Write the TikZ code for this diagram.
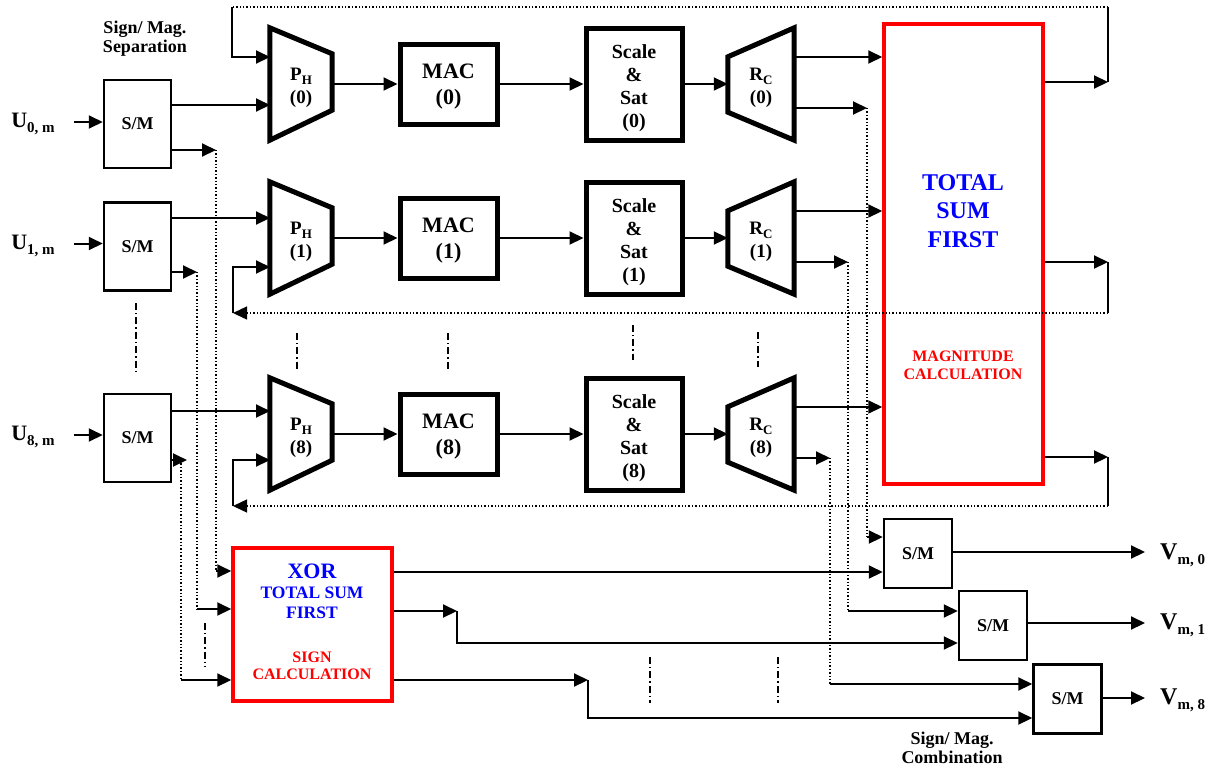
\documentclass[tikz,border=0pt]{standalone}
\usepackage{fontspec}
\setmainfont{Liberation Serif}
\usetikzlibrary{arrows.meta,calc}
\definecolor{tblue}{RGB}{0,0,255}
\definecolor{tred}{RGB}{255,0,0}
\newcommand{\mysub}[2][13]{\raisebox{-0.22em}{\fontsize{#1}{#1}\selectfont #2}}
\begin{document}
\begin{tikzpicture}[x=1pt,y=-1pt,
  conn/.style={line width=2pt},
  arr/.style={line width=2pt,-{Triangle[length=14pt,width=13pt]}},
  dotln/.style={line width=1.4pt,dash pattern=on 1.4pt off 2pt},
  dotarr/.style={line width=1.4pt,dash pattern=on 1.4pt off 2pt,-{Triangle[length=14pt,width=13pt]}},
  dashdot/.style={line width=1.4pt,dash pattern=on 7pt off 3pt on 1.4pt off 3pt},
  thk/.style={line width=5pt,line join=miter},
  trap/.style={minimum width=62pt,minimum height=112pt,inner sep=0pt},
  rctrap/.style={trap,minimum width=66pt},
  trtxt/.style={inner sep=0pt,align=center,font=\bfseries\fontsize{19}{23}\selectfont},
  macbox/.style={draw,line width=5pt,minimum width=97pt,minimum height=80pt,inner sep=0pt},
  mactxt/.style={inner sep=0pt,align=center,font=\bfseries\fontsize{22}{26}\selectfont},
  scbox/.style={draw,line width=5pt,minimum width=96pt,minimum height=112pt,inner sep=0pt},
  sctxt/.style={inner sep=0pt,align=center,font=\bfseries\fontsize{20}{23}\selectfont},
  smbox/.style={draw,line width=2.5pt,minimum width=67pt,minimum height=88pt,inner sep=0pt,font=\bfseries\fontsize{18}{18}\selectfont},
  smout/.style={draw,line width=2.5pt,minimum width=68pt,minimum height=69pt,inner sep=0pt,font=\bfseries\fontsize{18}{18}\selectfont},
  redbox/.style={draw=tred,line width=3.5pt,inner sep=0pt},
  lbl/.style={inner sep=0pt,align=center,font=\bfseries\fontsize{18}{19}\selectfont},
  ulbl/.style={inner sep=0pt,font=\bfseries\fontsize{22}{22}\selectfont},
  vlbl/.style={inner sep=0pt,font=\bfseries\fontsize{24}{24}\selectfont}
]
\useasboundingbox (0,0) rectangle (1212,772);

% ---- labels
\node[lbl] (sep) at (145,39) {Sign/ Mag.\\Separation};
\node[lbl] (comb) at (952,747.5) {Sign/ Mag.\\Combination};

% ---- input S/M
\node[smbox] (sm0) at (137.5,124) {S/M};
\node[smbox] (sm1) at (137.5,246.5) {S/M};
\node[smbox] (sm8) at (137.5,438) {S/M};
\node[ulbl] (u0) at (33,124) {U\mysub[15]{0, m}};
\node[ulbl] (u1) at (33,246) {U\mysub[15]{1, m}};
\node[ulbl] (u8) at (33,437) {U\mysub[15]{8, m}};
\draw[arr] ($(sm0.west)+(-29,-2)$) -- ($(sm0.west)+(0,-2)$);
\draw[arr] ($(sm1.west)+(-29,-3)$) -- ($(sm1.west)+(0,-3)$);
\draw[arr] ($(sm8.west)+(-29,-3)$) -- ($(sm8.west)+(0,-3)$);

% ---- processing rows
\foreach \i/\c in {0/84,1/238,8/434}{
  \node[trap] (ph\i) at (301,\c) {};
  \draw[thk] (ph\i.north west) -- ($(ph\i.north east)+(0,26)$) -- ($(ph\i.south east)+(0,-30)$) -- (ph\i.south west) -- cycle;
  \node[trtxt] (pht\i) at ($(ph\i.center)+(0,4)$) {P\mysub{H}\\(\i)};
  \node[macbox] (mac\i) at (448.5,\c) {};
  \node[mactxt] (mact\i) at ($(mac\i.center)+(0,3)$) {MAC\\(\i)};
  \node[scbox] (sc\i) at (634,\c) {};
  \node[sctxt] (sct\i) at ($(sc\i.center)+(0,4)$) {Scale\\\&\\Sat\\(\i)};
  \node[rctrap] (rc\i) at (761,\c) {};
  \draw[thk] (rc\i.north east) -- (rc\i.south east) -- ($(rc\i.south west)+(0,-28)$) -- ($(rc\i.north west)+(0,29)$) -- cycle;
  \node[trtxt] (rct\i) at ($(rc\i.center)+(0,4)$) {R\mysub{C}\\(\i)};
  \draw[arr] (ph\i.east) -- (mac\i.west);
  \draw[arr] (mac\i.east) -- (sc\i.west);
  \draw[arr] (sc\i.east) -- (rc\i.west);
}

% ---- magnitude block
\node[redbox,minimum width=159pt,minimum height=460pt] (tsf) at (963.5,254) {};
\node[inner sep=0pt,align=center,text=tblue,font=\bfseries\fontsize{24}{28.5}\selectfont] (tsft) at (963,211) {TOTAL\\SUM\\FIRST};
\node[inner sep=0pt,align=center,text=tred,font=\bfseries\fontsize{16}{18}\selectfont] (tsfm) at (963,365) {MAGNITUDE\\CALCULATION};

% R_C upper outputs into TSF
\draw[arr] ($(rc0.east)+(0,-27)$) coordinate (ta) -- (ta -| tsf.west);
\draw[arr] ($(rc1.east)+(0,-27)$) coordinate (tb) -- (tb -| tsf.west);
\draw[arr] ($(rc8.east)+(0,-27)$) coordinate (tc) -- (tc -| tsf.west);

% ---- sign block
\node[redbox,minimum width=159pt,minimum height=153pt] (xor) at (312.5,624.5) {};
\node[inner sep=0pt,text=tblue,font=\bfseries\fontsize{22}{22}\selectfont] (xort) at (312,571) {XOR};
\node[inner sep=0pt,align=center,text=tblue,font=\bfseries\fontsize{17.5}{20}\selectfont] (xort2) at (312,603) {TOTAL SUM\\FIRST};
\node[inner sep=0pt,align=center,text=tred,font=\bfseries\fontsize{16}{17}\selectfont] (xors) at (312,665.5) {SIGN\\CALCULATION};

% ---- output S/M
\node[smout] (v0) at (918,553.5) {S/M};
\node[smout] (v1) at (993,625.5) {S/M};
\node[smout] (v8) at (1067.5,699) {S/M};
\coordinate (o0) at (1145,552);
\coordinate (o1) at (1145,623);
\coordinate (o8) at (1145,698);
\node[vlbl,anchor=west] (vl0) at (1160,555) {V\mysub[15]{m, 0}};
\node[vlbl,anchor=west] (vl1) at (1160,625) {V\mysub[15]{m, 1}};
\node[vlbl,anchor=west] (vl8) at (1160,700) {V\mysub[15]{m, 8}};
\draw[arr] (v0.east |- o0) -- (o0);
\draw[arr] (v1.east |- o1) -- (o1);
\draw[arr] (v8.east |- o8) -- (o8);

% ---- S/M magnitude outputs to P_H
\coordinate (p0a) at (270,57);
\coordinate (p0b) at (270,105);
\coordinate (p1a) at (270,218);
\coordinate (p1b) at (270,267);
\coordinate (p8a) at (270,411);
\coordinate (p8b) at (270,460);
\draw[arr] (sm0.east |- p0b) -- (p0b);
\draw[arr] (sm1.east |- p1a) -- (p1a);
\draw[arr] (sm8.east |- p8a) -- (p8a);

% ---- feedback loops TSF -> P_H
\coordinate (f0) at (1108,82);
\coordinate (f0t) at (1108,7);
\coordinate (f0l) at (232,7);
\draw[arr] (tsf.east |- f0) -- (f0);
\draw[conn] (f0) -- (f0t);
\draw[dotln] (f0t) -- (f0l);
\draw[arr] (f0l) |- (p0a);

\coordinate (f1) at (1108,262);
\coordinate (f1b) at (1108,313);
\coordinate (f1l) at (233,313);
\draw[arr] (tsf.east |- f1) -- (f1);
\draw[conn] (f1) -- (f1b);
\draw[dotarr] (f1b) -- (f1l);
\draw[arr] (f1l) |- (p1b);

\coordinate (f8) at (1108,457);
\coordinate (f8b) at (1108,506);
\coordinate (f8l) at (233,506);
\draw[arr] (tsf.east |- f8) -- (f8);
\draw[conn] (f8) -- (f8b);
\draw[dotarr] (f8b) -- (f8l);
\draw[arr] (f8l) |- (p8b);

% ---- R_C magnitude outputs to output S/M
\coordinate (d0t) at (867,108);
\coordinate (d0b) at (867,537);
\coordinate (d1t) at (848,262);
\coordinate (d1b) at (848,611);
\coordinate (d8t) at (830,458);
\coordinate (d8b) at (830,684);
\draw[arr] (rc0.east |- d0t) -- (d0t);
\draw[dotln] (d0t) -- (d0b);
\draw[arr] (d0b) -- (v0.west |- d0b);
\draw[arr] (rc1.east |- d1t) -- (d1t);
\draw[dotln] (d1t) -- (d1b);
\draw[arr] (d1b) -- (v1.west |- d1b);
\draw[arr] (rc8.east |- d8t) -- (d8t);
\draw[dotln] (d8t) -- (d8b);
\draw[arr] (d8b) -- (v8.west |- d8b);

% ---- S/M sign outputs to XOR
\coordinate (s0t) at (216,150);
\coordinate (s0b) at (216,571);
\coordinate (s1t) at (197,272);
\coordinate (s1b) at (197,609);
\coordinate (s8t) at (187,460);
\coordinate (s8v) at (181,460);
\coordinate (s8b) at (181,680);
\draw[arr] (sm0.east |- s0t) -- (s0t);
\draw[dotln] (s0t) -- (s0b);
\draw[arr] (s0b) -- (xor.west |- s0b);
\draw[arr] (sm1.east |- s1t) -- (s1t);
\draw[dotln] (s1t) -- (s1b);
\draw[arr] (s1b) -- (xor.west |- s1b);
\draw[arr] (sm8.east |- s8t) -- (s8t);
\draw[dotln] (s8v) -- (s8b);
\draw[arr] (s8b) -- (xor.west |- s8b);

% ---- XOR outputs to output S/M
\coordinate (y572) at (0,572);
\draw[arr] (xor.east |- y572) -- (v0.west |- y572);
\coordinate (j1) at (457,611);
\coordinate (j1b) at (457,643);
\draw[arr] (xor.east |- j1) -- (j1);
\draw[arr] (j1) -- (j1b) -- (v1.west |- j1b);
\coordinate (j8) at (588,680);
\coordinate (j8b) at (588,718);
\draw[arr] (xor.east |- j8) -- (j8);
\draw[arr] (j8) -- (j8b) -- (v8.west |- j8b);

% ---- continuation marks
\draw[dashdot] (136,303) -- (136,373);
\draw[dashdot] (297,333) -- (297,370);
\draw[dashdot] (448,333) -- (448,369);
\draw[dashdot] (633,325) -- (633,360);
\draw[dashdot] (758,332) -- (758,367);
\draw[dashdot] (205,623) -- (205,667);
\draw[dashdot] (650,657) -- (650,703);
\draw[dashdot] (778,657) -- (778,703);
\end{tikzpicture}
\end{document}
